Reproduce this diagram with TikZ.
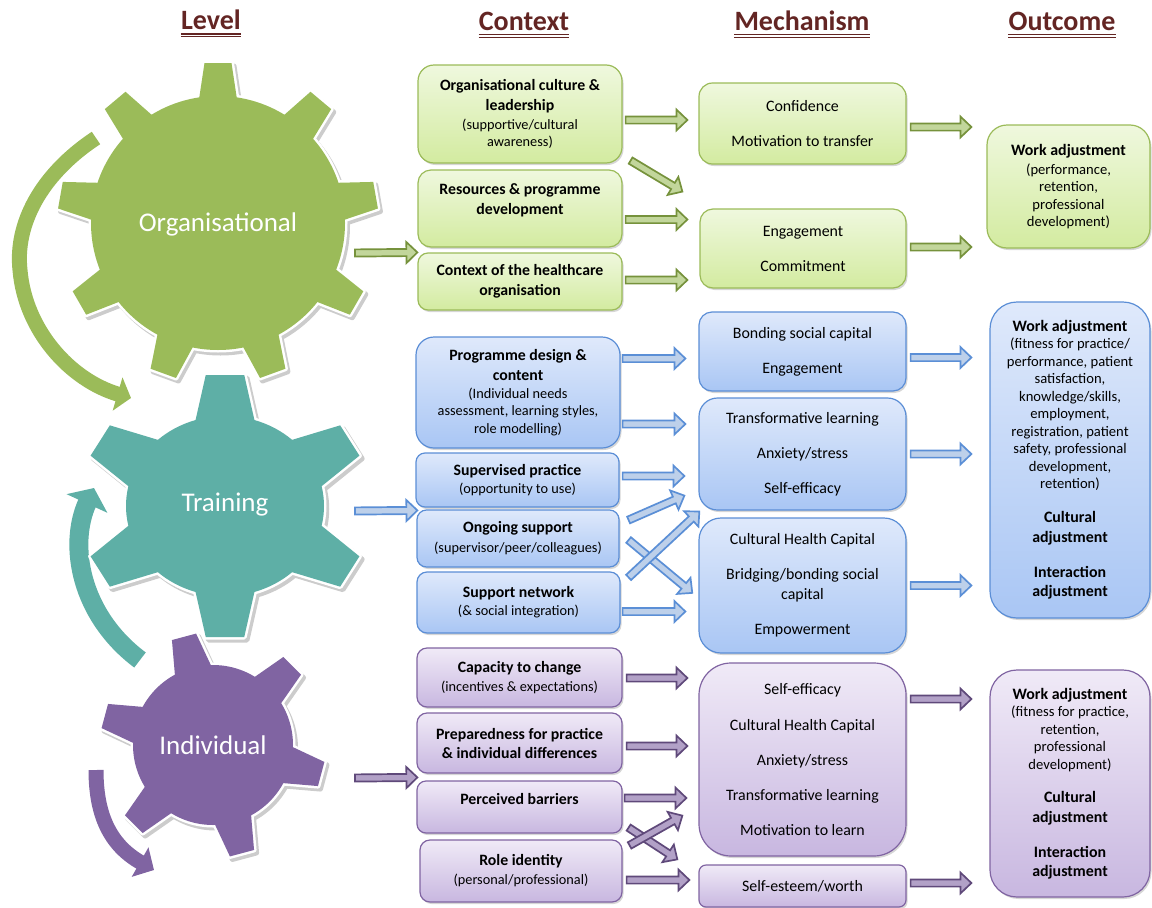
\documentclass[tikz,border=0pt]{standalone}
\usepackage{fontspec}
\setmainfont{Carlito}
\usepackage{graphicx}
\usetikzlibrary{calc,arrows.meta,shadows}

\definecolor{hdrred}{HTML}{632523}
\definecolor{ggear}{HTML}{9BBB59}
\definecolor{tgear}{HTML}{5EAFA6}
\definecolor{pgear}{HTML}{8064A2}
\definecolor{gdraw}{HTML}{9BBB59}
\definecolor{gtop}{HTML}{EFF8DE}
\definecolor{gbot}{HTML}{D3EBA0}
\definecolor{bdraw}{HTML}{5B8ED6}
\definecolor{btop}{HTML}{DFE9FB}
\definecolor{bbot}{HTML}{A9C6F4}
\definecolor{pdraw}{HTML}{8064A2}
\definecolor{ptop}{HTML}{F0EAF7}
\definecolor{pbot}{HTML}{C8B7E0}
\definecolor{gad}{HTML}{76923C}
\definecolor{gaf}{HTML}{C2D69B}
\definecolor{bad}{HTML}{5B8FD6}
\definecolor{baf}{HTML}{BDD0EA}
\definecolor{pad}{HTML}{5F497A}
\definecolor{paf}{HTML}{B2A1C7}

\newdimen\bax \newdimen\bay \newdimen\bbx \newdimen\bby
\newcommand\barrow[3]{%
  \path #1 coordinate (bas);
  \path #2 coordinate (bae);
  \pgfextractx{\bax}{\pgfpointanchor{bas}{center}}%
  \pgfextracty{\bay}{\pgfpointanchor{bas}{center}}%
  \pgfextractx{\bbx}{\pgfpointanchor{bae}{center}}%
  \pgfextracty{\bby}{\pgfpointanchor{bae}{center}}%
  \pgfmathsetmacro\baang{atan2(\bby-\bay,\bbx-\bax)}%
  \pgfmathsetmacro\balen{veclen(\bbx-\bax,\bby-\bay)}%
  \begin{scope}[shift={(bas)},rotate=\baang,x=1pt,y=1pt]
    \path[#3] (0,-3.6) -- ({\balen-11},-3.6) -- ({\balen-11},-10.5) -- (\balen,0)
      -- ({\balen-11},10.5) -- ({\balen-11},3.6) -- (0,3.6) -- cycle;
  \end{scope}}

\newcommand\gearpass[6]{%
  \path[#1] (0,0) circle[radius=#2pt];
  \foreach \ang in {#6}{\path[#1,rotate=\ang] ({#2-10},-#4) -- (#3,-#5) -- (#3,#5) -- ({#2-10},#4) -- cycle;}%
}
\newcommand\mygear[8]{%
  \begin{scope}[shift={#1},x=1pt,y=1pt,xscale=#2]
    \begin{scope}[shift={(2.5,-3)}]
      \gearpass{fill=black!20,draw=black!20,line width=5pt,line join=round}{#4}{#5}{#6}{#7}{#3}
    \end{scope}
    \gearpass{fill=white,draw=white,line width=5pt,line join=round}{#4}{#5}{#6}{#7}{#3}
    \gearpass{fill=#8}{#4}{#5}{#6}{#7}{#3}
  \end{scope}}

\newcommand\tb[1]{{\fontsize{15.8}{17.5}\selectfont\bfseries #1}}
\newcommand\ob[1]{{\fontsize{15.9}{17.5}\selectfont\bfseries #1}}

\tikzset{
  hdr/.style={inner sep=0pt, text=hdrred, font=\fontsize{28}{32}\selectfont\bfseries, anchor=base},
  hdrline/.style={draw=hdrred},
  geartxt/.style={text=white, font=\fontsize{27}{32}\selectfont, inner sep=0pt},
  box/.style={line width=1.2pt, align=center, inner sep=1pt,
    drop shadow={shadow xshift=1.5pt, shadow yshift=-2pt, opacity=1, fill=black!16}},
  ctx/.style={box, font=\fontsize{14.3}{17.5}\selectfont},
  mech/.style={box, font=\fontsize{15.9}{19.5}\selectfont},
  outc/.style={box, font=\fontsize{14.6}{17.5}\selectfont},
  gcol/.style={draw=gdraw, top color=gtop, bottom color=gbot},
  bcol/.style={draw=bdraw, top color=btop, bottom color=bbot},
  pcol/.style={draw=pdraw, top color=ptop, bottom color=pbot},
  garr/.style={draw=gad, fill=gaf, line width=1.7pt, line join=miter},
  barr/.style={draw=bad, fill=baf, line width=1.7pt, line join=miter},
  parr/.style={draw=pad, fill=paf, line width=1.7pt, line join=miter},
}

\begin{document}
\begin{tikzpicture}[x=1pt,y=-1pt]
\useasboundingbox (0,0) rectangle (1152,908);

% headers
\node[hdr] (hlevel) at (211,29.5) {Level};
\node[hdr] (hctx) at (524,30) {Context};
\node[hdr] (hmech) at (802,30) {Mechanism};
\node[hdr] (hout) at (1062,30) {Outcome};
\foreach \h in {hlevel,hctx,hmech,hout}{
  \draw[hdrline, line width=1.6pt] ($(\h.base west)+(0,4.5)$) -- ($(\h.base east)+(0,4.5)$);
  \draw[hdrline, line width=0.7pt] ($(\h.base west)+(0,7.3)$) -- ($(\h.base east)+(0,7.3)$);
}

% curved arrows
\draw[ggear, line width=15pt, -{Triangle[length=14pt,width=34pt]}]
  (96,138) .. controls (40,175) and (15,225) .. (20,270)
  .. controls (25,330) and (70,380) .. (131,398);
\draw[tgear, line width=19pt, -{Triangle[length=17pt,width=44pt]}]
  (140,660) .. controls (80,615) and (68,545) .. (94,488);
\draw[pgear, line width=15pt, -{Triangle[length=16pt,width=33pt]}]
  (96,770) .. controls (96,815) and (110,845) .. (154,870);

% gears
\mygear{(218,223)}{1}{90,50,10,-30,-70,-110,-150,170,130}{127}{160}{20}{13.5}{ggear}
\mygear{(225,506)}{1.1}{90,30,-30,-90,-150,150}{90}{131}{28}{17.5}{tgear}
\mygear{(213,745)}{1}{105,45,-15,-75,-135,165}{80}{112}{20}{12.5}{pgear}
\node[geartxt] (lorg) at (218,224) {Organisational};
\node[geartxt] (ltrn) at (225,505) {Training};
\node[geartxt] (lind) at (213,745) {Individual};

% context boxes
\node[ctx,gcol,minimum width=204pt,minimum height=98pt,rounded corners=16pt] (c1) at (520,114)
  {\tb{Organisational culture \&}\\[2pt]\tb{leadership}\\[1.5pt](supportive/cultural\\awareness)};
\node[ctx,gcol,minimum width=204pt,minimum height=77pt,rounded corners=13pt] (c2) at (520,208.5)
  {\tb{Resources \& programme}\\[2.5pt]\tb{development}\\[-3pt]\strut};
\node[ctx,gcol,minimum width=204pt,minimum height=57pt,rounded corners=10pt] (c3) at (520,281.5)
  {\tb{Context of the healthcare}\\[2.5pt]\tb{organisation}};

\node[ctx,bcol,minimum width=204pt,minimum height=111pt,rounded corners=18pt] (b1) at (518,392.5)
  {\tb{Programme design \&}\\[2.5pt]\tb{content}\\[0.5pt](Individual needs\\assessment, learning styles,\\role modelling)};
\node[ctx,bcol,minimum width=203pt,minimum height=54pt,rounded corners=9pt] (b2) at (517.5,480)
  {\tb{Supervised practice}\\[0.5pt](opportunity to use)};
\node[ctx,bcol,minimum width=202pt,minimum height=57pt,rounded corners=9.5pt] (b3) at (518,538.5)
  {\tb{Ongoing support}\\[2.5pt](supervisor/peer/colleagues)};
\node[ctx,bcol,minimum width=203pt,minimum height=61pt,rounded corners=10pt] (b4) at (518.5,602.5)
  {\tb{Support network}\\[0.5pt](\& social integration)};

\node[ctx,pcol,minimum width=205pt,minimum height=59pt,rounded corners=10pt] (p1) at (519.5,677.5)
  {\tb{Capacity to change}\\[1.5pt](incentives \& expectations)};
\node[ctx,pcol,minimum width=205pt,minimum height=60pt,rounded corners=10pt] (p2) at (519.5,743)
  {\tb{Preparedness for practice}\\[1.5pt]\tb{\& individual differences}};
\node[ctx,pcol,minimum width=205pt,minimum height=52pt,rounded corners=9pt] (p3) at (519.5,807)
  {\tb{Perceived barriers}\\[-7pt]\strut};
\node[ctx,pcol,minimum width=202pt,minimum height=62pt,rounded corners=10pt] (p4) at (521,871)
  {\tb{Role identity}\\[1.5pt](personal/professional)};

% mechanism boxes
\node[mech,gcol,minimum width=207pt,minimum height=81pt,rounded corners=13.5pt] (m1) at (802.5,123.5)
  {Confidence\\[15.5pt]Motivation to transfer};
\node[mech,gcol,minimum width=206pt,minimum height=79pt,rounded corners=13pt] (m2) at (803,248.5)
  {Engagement\\[15.5pt]Commitment};
\node[mech,bcol,minimum width=207pt,minimum height=79pt,rounded corners=13pt] (m3) at (802.5,351.5)
  {Bonding social capital\\[15.5pt]Engagement};
\node[mech,bcol,minimum width=207pt,minimum height=112pt,rounded corners=18.5pt] (m4) at (802.5,454)
  {Transformative learning\\[15.5pt]Anxiety/stress\\[15.5pt]Self-efficacy};
\node[mech,bcol,minimum width=207pt,minimum height=135pt,rounded corners=22pt] (m5) at (802.5,585.5)
  {Cultural Health Capital\\[15.5pt]Bridging/bonding social\\capital\\[15.5pt]Empowerment};
\node[mech,pcol,minimum width=207pt,minimum height=193pt,rounded corners=32pt] (m6) at (802.5,759.5)
  {Self-efficacy\\[16pt]Cultural Health Capital\\[15.5pt]Anxiety/stress\\[15.5pt]Transformative learning\\[15.5pt]Motivation to learn};
\node[mech,pcol,minimum width=207pt,minimum height=42pt,rounded corners=7pt] (m7) at (802.5,886)
  {Self-esteem/worth};

% outcome boxes
\node[outc,gcol,minimum width=163pt,minimum height=123pt,rounded corners=20pt] (o1) at (1068.5,186.5)
  {\ob{Work adjustment}\\[1.5pt](performance,\\retention,\\professional\\development)};
\node[outc,bcol,minimum width=160pt,minimum height=316pt,rounded corners=27pt] (o2) at (1070,460)
  {\ob{Work adjustment}\\(fitness for practice/\\performance, patient\\satisfaction,\\knowledge/skills,\\employment,\\registration, patient\\safety, professional\\development,\\retention)\\[16.5pt]\ob{Cultural}\\[2.5pt]\ob{adjustment}\\[17.5pt]\ob{Interaction}\\[1.5pt]\ob{adjustment}};
\node[outc,pcol,minimum width=160pt,minimum height=227pt,rounded corners=27pt] (o3) at (1070,783.5)
  {\ob{Work adjustment}\\(fitness for practice,\\retention,\\professional\\development)\\[15.5pt]\ob{Cultural}\\[2.5pt]\ob{adjustment}\\[17.5pt]\ob{Interaction}\\[1.5pt]\ob{adjustment}};

% green block arrows
\barrow{($(lorg)+(137,29)$)}{(c3.north west)}{garr}
\barrow{($(c1.east)+(3,6)$)}{($(m1.west)+(-11,-3.5)$)}{garr}
\barrow{($(c1.south east)+(8,-3)$)}{($(m1.south west)+(-16,27)$)}{garr}
\barrow{($(c2.east)+(3,11)$)}{($(m2.west)+(-12,-29)$)}{garr}
\barrow{($(c3.east)+(3,-1.5)$)}{($(m2.west)+(-12,31.5)$)}{garr}
\barrow{($(m1.east)+(4,3.5)$)}{($(o1.west)+(-15,-59.5)$)}{garr}
\barrow{($(m2.east)+(4,-1.5)$)}{($(o1.west)+(-15,60.5)$)}{garr}

% blue block arrows
\barrow{($(ltrn)+(130,6)$)}{($(b3.north west)+(1,1)$)}{barr}
\barrow{($(b1.east)+(2,-34)$)}{($(m3.west)+(-13,7)$)}{barr}
\barrow{($(b1.east)+(2,31.5)$)}{($(m4.west)+(-13,-30)$)}{barr}
\barrow{($(b2.east)+(3,-4)$)}{($(m4.west)+(-14,22)$)}{barr}
\barrow{($(b3.east)+(9,-18.5)$)}{($(m4.south west)+(-14,-15)$)}{barr}
\barrow{($(b3.east)+(9,1.5)$)}{($(m5.west)+(-6,7.5)$)}{barr}
\barrow{($(b4.north east)+(8,6)$)}{($(m5.north west)+(1,-6)$)}{barr}
\barrow{($(b4.east)+(2,9)$)}{($(m5.west)+(-13,26)$)}{barr}
\barrow{($(m3.east)+(4,6)$)}{($(o2.west)+(-18,-102.5)$)}{barr}
\barrow{($(m4.east)+(4,0)$)}{($(o2.west)+(-18,-6)$)}{barr}
\barrow{($(m5.east)+(4,0)$)}{($(o2.west)+(-18,125.5)$)}{barr}

% purple block arrows
\barrow{($(lind)+(142,33)$)}{($(p3.north west)+(1,-3)$)}{parr}
\barrow{($(p1.east)+(4,0.5)$)}{($(m6.west)+(-11,-81.5)$)}{parr}
\barrow{($(p2.east)+(4,3)$)}{($(m6.west)+(-11,-13.5)$)}{parr}
\barrow{($(p3.east)+(2,-9)$)}{($(m6.west)+(-12,38.5)$)}{parr}
\barrow{($(p3.south east)+(6,-6)$)}{($(m7.north west)+(-21,-5)$)}{parr}
\barrow{($(p4.north east)+(7,6)$)}{($(m6.south west)+(-16,-41)$)}{parr}
\barrow{($(p4.east)+(4,9)$)}{($(m7.west)+(-9,-6)$)}{parr}
\barrow{($(m6.east)+(4,-60.5)$)}{($(o3.west)+(-18,-84.5)$)}{parr}
\barrow{($(m7.east)+(4,-3)$)}{($(o3.west)+(-18,99.5)$)}{parr}
\end{tikzpicture}
\end{document}
